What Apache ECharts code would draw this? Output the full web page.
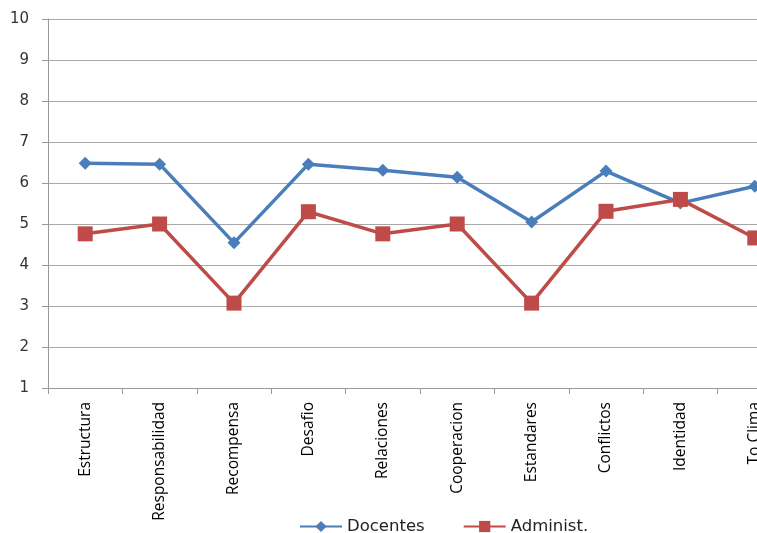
<!DOCTYPE html>
<html><head><meta charset="utf-8">
<script src="https://cdn.jsdelivr.net/npm/echarts@6/dist/echarts.min.js"></script>
<style>html,body{margin:0;padding:0;background:#fff}#c{width:757px;height:533px}</style>
</head><body><div id="c"></div>
<script>
const categories = ["Estructura","Responsabilidad","Recompensa","Desafio","Relaciones","Cooperacion","Estandares","Conflictos","Identidad","To Clima"];
const docentes = [6.48, 6.46, 4.54, 6.46, 6.31, 6.14, 5.05, 6.29, 5.51, 5.92];
const administ = [4.76, 5.0, 3.07, 5.3, 4.76, 5.0, 3.07, 5.31, 5.6, 4.66];
const yTicks = {min: 1, max: 10, interval: 1};

const chart = echarts.init(document.getElementById('c'), null, {renderer: 'canvas'});
chart.setOption({
  animation: false,
  grid: {left: 48, top: 19, right: -35, bottom: 145, containLabel: false, outerBoundsMode: 'none'},
  legend: {
    bottom: -7, left: 294, itemGap: 38, itemWidth: 42, itemHeight: 14,
    textStyle: {fontFamily: 'DejaVu Sans', fontSize: 16.5, color: '#222'},
    data: ['Docentes', 'Administ.']
  },
  xAxis: {
    type: 'category', data: categories, boundaryGap: true,
    axisLine: {lineStyle: {color: '#9a9a9a', width: 1}},
    axisTick: {show: true, length: 6, lineStyle: {color: '#9a9a9a'}},
    axisLabel: {rotate: 90, margin: 14, fontFamily: 'Open Sans', fontSize: 15.5, color: '#000'}
  },
  yAxis: {
    type: 'value', min: yTicks.min, max: yTicks.max, interval: yTicks.interval,
    axisLine: {show: true, lineStyle: {color: '#9a9a9a', width: 1}},
    axisTick: {show: true, length: 6, lineStyle: {color: '#9a9a9a'}},
    splitLine: {lineStyle: {color: '#a8a8a8', width: 1}},
    axisLabel: {margin: 19, fontFamily: 'DejaVu Sans', fontSize: 15, color: '#333'}
  },
  series: [
    {name: 'Docentes', type: 'line', data: docentes, symbol: 'diamond', symbolSize: 13,
     lineStyle: {color: '#4a7ebb', width: 3.5}, itemStyle: {color: '#4a7ebb'}},
    {name: 'Administ.', type: 'line', data: administ, symbol: 'rect', symbolSize: 15,
     lineStyle: {color: '#be4b48', width: 3.5}, itemStyle: {color: '#be4b48'}}
  ]
});
</script></body></html>
